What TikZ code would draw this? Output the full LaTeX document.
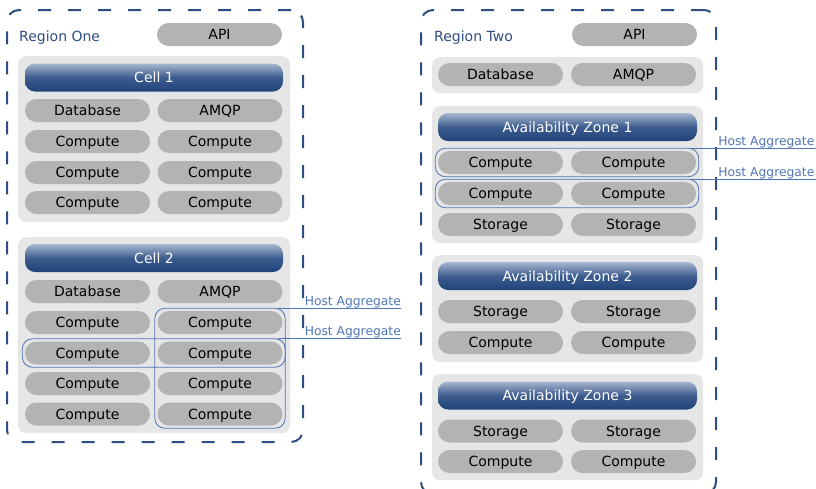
\documentclass[tikz,border=0pt]{standalone}
\usepackage{fontspec}
\setmainfont{DejaVu Sans}
\usetikzlibrary{positioning, fit}

\definecolor{regionblue}{HTML}{2C4E80}
\definecolor{cellgray}{HTML}{E6E6E6}
\definecolor{pillgray}{HTML}{B3B3B3}
\definecolor{headtop}{HTML}{A7B7CF}
\definecolor{headmid}{HTML}{3D5C8E}
\definecolor{headbot}{HTML}{1F4379}
\definecolor{aggblue}{HTML}{4F76B5}

\begin{document}
\begin{tikzpicture}[x=1pt, y=-1pt, font=\fontsize{14}{16}\selectfont,
  region/.style={draw=regionblue, line width=2pt, dash pattern=on 13pt off 17pt, rounded corners=12pt, anchor=north west, inner sep=0pt},
  cellbox/.style={fill=cellgray, rounded corners=8pt, anchor=north west, inner sep=0pt},
  header/.style={rounded corners=10pt, top color=headtop, bottom color=headbot, middle color=headmid, text=white, minimum height=28pt, text height=10.2pt, text depth=0pt, inner sep=0pt},
  pill/.style={fill=pillgray, rounded corners=11.5pt, minimum width=125pt, minimum height=23pt, text height=10.2pt, text depth=0pt, inner sep=0pt},
  regionlabel/.style={text=regionblue, anchor=base west, inner sep=0pt},
  aggregate/.style={draw=aggblue, line width=0.8pt, rounded corners=10pt, inner sep=2.5pt},
  agglabel/.style={text=aggblue, font=\fontsize{12.3}{14}\selectfont, anchor=south west, inner sep=0pt},
  aggline/.style={draw=aggblue, line width=0.8pt}]

  \useasboundingbox (0,0) rectangle (816,488);

  % region one
  \node [region, minimum width=296pt, minimum height=432pt] (regionone) at (6,9) {};
  \node [regionlabel] (regiononelabel) at (19,41) {Region One};
  \node [pill] (regiononeapi) at (219.5,34.5) {API};

  \node [cellbox, minimum width=272pt, minimum height=166pt] (cellone) at (18,56) {};
  \node [header, minimum width=258pt] (celloneheader) at (154,77.5) {Cell 1};
  \node [pill] (celloneL0) at (87.5,110.5) {Database};
  \node [pill] (celloneR0) at (220,110.5) {AMQP};
  \foreach \y [count=\i] in {141.5,172.5,202.5} {
    \node [pill] (celloneL\i) at (87.5,\y) {Compute};
    \node [pill] (celloneR\i) at (220,\y) {Compute};
  }

  \node [cellbox, minimum width=272pt, minimum height=196pt] (celltwo) at (18,237) {};
  \node [header, minimum width=258pt] (celltwoheader) at (154,258) {Cell 2};
  \node [pill] (celltwoL0) at (87.5,291.5) {Database};
  \node [pill] (celltwoR0) at (220,291.5) {AMQP};
  \foreach \y [count=\i] in {322.5,353,383.5,414} {
    \node [pill] (celltwoL\i) at (87.5,\y) {Compute};
    \node [pill] (celltwoR\i) at (220,\y) {Compute};
  }

  % host aggregates of cell 2
  \node [aggregate, fit=(celltwoR1)(celltwoR4)] (celltwoaggcol) {};
  \node [aggregate, fit=(celltwoL2)(celltwoR2)] (celltwoaggrow) {};
  \node [agglabel] (celltwohostA) at ([xshift=19pt]celltwoaggcol.north east) {Host Aggregate};
  \node [agglabel] (celltwohostB) at ([xshift=19pt]celltwoaggrow.north east) {Host Aggregate};
  \draw [aggline] ([xshift=-8pt]celltwoaggcol.north east) -- (celltwoaggcol.north east -| celltwohostA.east);
  \draw [aggline] ([xshift=-8pt]celltwoaggrow.north east) -- (celltwoaggrow.north east -| celltwohostB.east);

  % region two
  \node [region, minimum width=295pt, minimum height=484pt] (regiontwo) at (420,9) {};
  \node [regionlabel] (regiontwolabel) at (434,41) {Region Two};
  \node [pill] (regiontwoapi) at (634.5,34.5) {API};

  \node [cellbox, minimum width=271pt, minimum height=36pt] (shared) at (432,57) {};
  \node [pill] (sharedL) at (500.5,74.5) {Database};
  \node [pill] (sharedR) at (633.5,74.5) {AMQP};

  \node [cellbox, minimum width=271pt, minimum height=137pt] (zoneone) at (432,106) {};
  \node [header, minimum width=259pt] (zoneoneheader) at (567.5,127) {Availability Zone 1};
  \node [pill] (zoneoneL1) at (500.5,162.5) {Compute};
  \node [pill] (zoneoneR1) at (633.5,162.5) {Compute};
  \node [pill] (zoneoneL2) at (500.5,193.5) {Compute};
  \node [pill] (zoneoneR2) at (633.5,193.5) {Compute};
  \node [pill] (zoneoneL3) at (500.5,224.5) {Storage};
  \node [pill] (zoneoneR3) at (633.5,224.5) {Storage};

  % host aggregates of zone 1
  \node [aggregate, fit=(zoneoneL1)(zoneoneR1)] (zoneoneaggA) {};
  \node [aggregate, fit=(zoneoneL2)(zoneoneR2)] (zoneoneaggB) {};
  \node [agglabel] (zoneonehostA) at ([xshift=19pt]zoneoneaggA.north east) {Host Aggregate};
  \node [agglabel] (zoneonehostB) at ([xshift=19pt]zoneoneaggB.north east) {Host Aggregate};
  \coordinate (edgeA) at (816,0);
  \draw [aggline] ([xshift=-8pt]zoneoneaggA.north east) -- (zoneoneaggA.north east -| edgeA);
  \draw [aggline] ([xshift=-8pt]zoneoneaggB.north east) -- (zoneoneaggB.north east -| edgeA);

  \node [cellbox, minimum width=271pt, minimum height=107pt] (zonetwo) at (432,255) {};
  \node [header, minimum width=259pt] (zonetwoheader) at (567.5,276) {Availability Zone 2};
  \node [pill] (zonetwoL1) at (500.5,311.5) {Storage};
  \node [pill] (zonetwoR1) at (633.5,311.5) {Storage};
  \node [pill] (zonetwoL2) at (500.5,342.5) {Compute};
  \node [pill] (zonetwoR2) at (633.5,342.5) {Compute};

  \node [cellbox, minimum width=271pt, minimum height=106pt] (zonethree) at (432,374) {};
  \node [header, minimum width=259pt] (zonethreeheader) at (567.5,395.5) {Availability Zone 3};
  \node [pill] (zonethreeL1) at (500.5,431) {Storage};
  \node [pill] (zonethreeR1) at (633.5,431) {Storage};
  \node [pill] (zonethreeL2) at (500.5,461.5) {Compute};
  \node [pill] (zonethreeR2) at (633.5,461.5) {Compute};
\end{tikzpicture}
\end{document}
